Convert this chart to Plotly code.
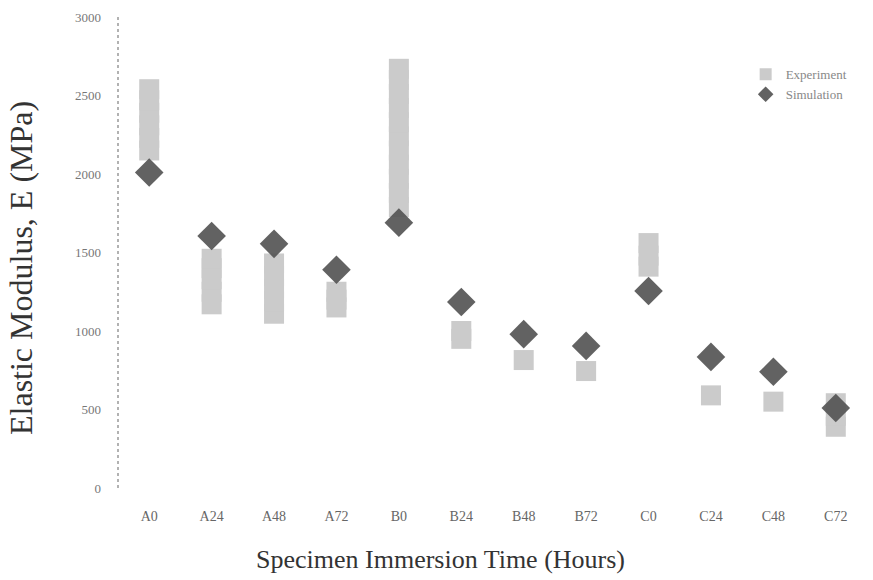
import plotly.graph_objects as go

categories = ["A0", "A24", "A48", "A72", "B0", "B24", "B48", "B72", "C0", "C24", "C48", "C72"]

exp_values = {
    "A0": [2150, 2230, 2310, 2390, 2470, 2540],
    "A24": [1170, 1250, 1330, 1400, 1460],
    "A48": [1110, 1190, 1270, 1350, 1430],
    "A72": [1150, 1200, 1250],
    "B0": [1790, 1880, 1970, 2060, 2150, 2240, 2330, 2420, 2510, 2600, 2670],
    "B24": [950, 1000],
    "B48": [815],
    "B72": [745],
    "C0": [1410, 1480, 1560],
    "C24": [590],
    "C48": [550],
    "C72": [390, 460, 540],
}

sim_values = [2010, 1605, 1555, 1390, 1690, 1185, 980, 905, 1255, 835, 740, 510]

y_ticks = [0, 500, 1000, 1500, 2000, 2500, 3000]

exp_x, exp_y = [], []
for c in categories:
    for v in exp_values[c]:
        exp_x.append(c)
        exp_y.append(v)

SERIF = "Liberation Serif, Times New Roman, serif"

fig = go.Figure()
fig.add_trace(go.Scatter(
    x=exp_x, y=exp_y, mode="markers", name="Experiment",
    marker=dict(symbol="square", size=20, color="#cbcbcb", opacity=1,
                line=dict(width=0)),
))
fig.add_trace(go.Scatter(
    x=categories, y=sim_values, mode="markers", name="Simulation",
    marker=dict(symbol="diamond", size=22, color="#555555", opacity=0.92,
                line=dict(width=0)),
))

fig.update_layout(
    width=873, height=580,
    margin=dict(l=118, r=6, t=17, b=92),
    paper_bgcolor="white", plot_bgcolor="white",
    font=dict(family=SERIF, color="#444444"),
    showlegend=True,
    legend=dict(x=0.838, y=0.91, xanchor="left", yanchor="top",
                font=dict(size=13, color="#888888", family=SERIF),
                bgcolor="rgba(0,0,0,0)", itemsizing="constant"),
    xaxis=dict(
        type="category", categoryorder="array", categoryarray=categories,
        range=[-0.5, 11.5], showgrid=False, zeroline=False, showline=False,
        ticks="", tickfont=dict(size=14, color="#666666", family=SERIF),
        ticklabelstandoff=18,
    ),
    yaxis=dict(
        range=[0, 3000], tickvals=y_ticks, showgrid=False, zeroline=False,
        showline=False, ticks="", ticklabelstandoff=16,
        tickfont=dict(size=13, color="#777777", family=SERIF),
    ),
    shapes=[dict(type="line", xref="paper", yref="paper", x0=0, x1=0, y0=0, y1=1,
                 line=dict(color="#999999", width=1.5, dash="dot"))],
    annotations=[
        dict(text="Specimen Immersion Time (Hours)", xref="paper", yref="paper",
             x=(440 - 118) / 749, y=-(559 - 488) / 471, xanchor="center", yanchor="middle",
             showarrow=False, font=dict(size=26, color="#333333", family=SERIF)),
        dict(text="Elastic Modulus, E (MPa)", xref="paper", yref="paper",
             x=(21 - 118) / 749, y=(488 - 268) / 471, xanchor="center", yanchor="middle",
             textangle=-90, showarrow=False,
             font=dict(size=32, color="#333333", family=SERIF)),
    ],
)

fig.write_html("out.html")
